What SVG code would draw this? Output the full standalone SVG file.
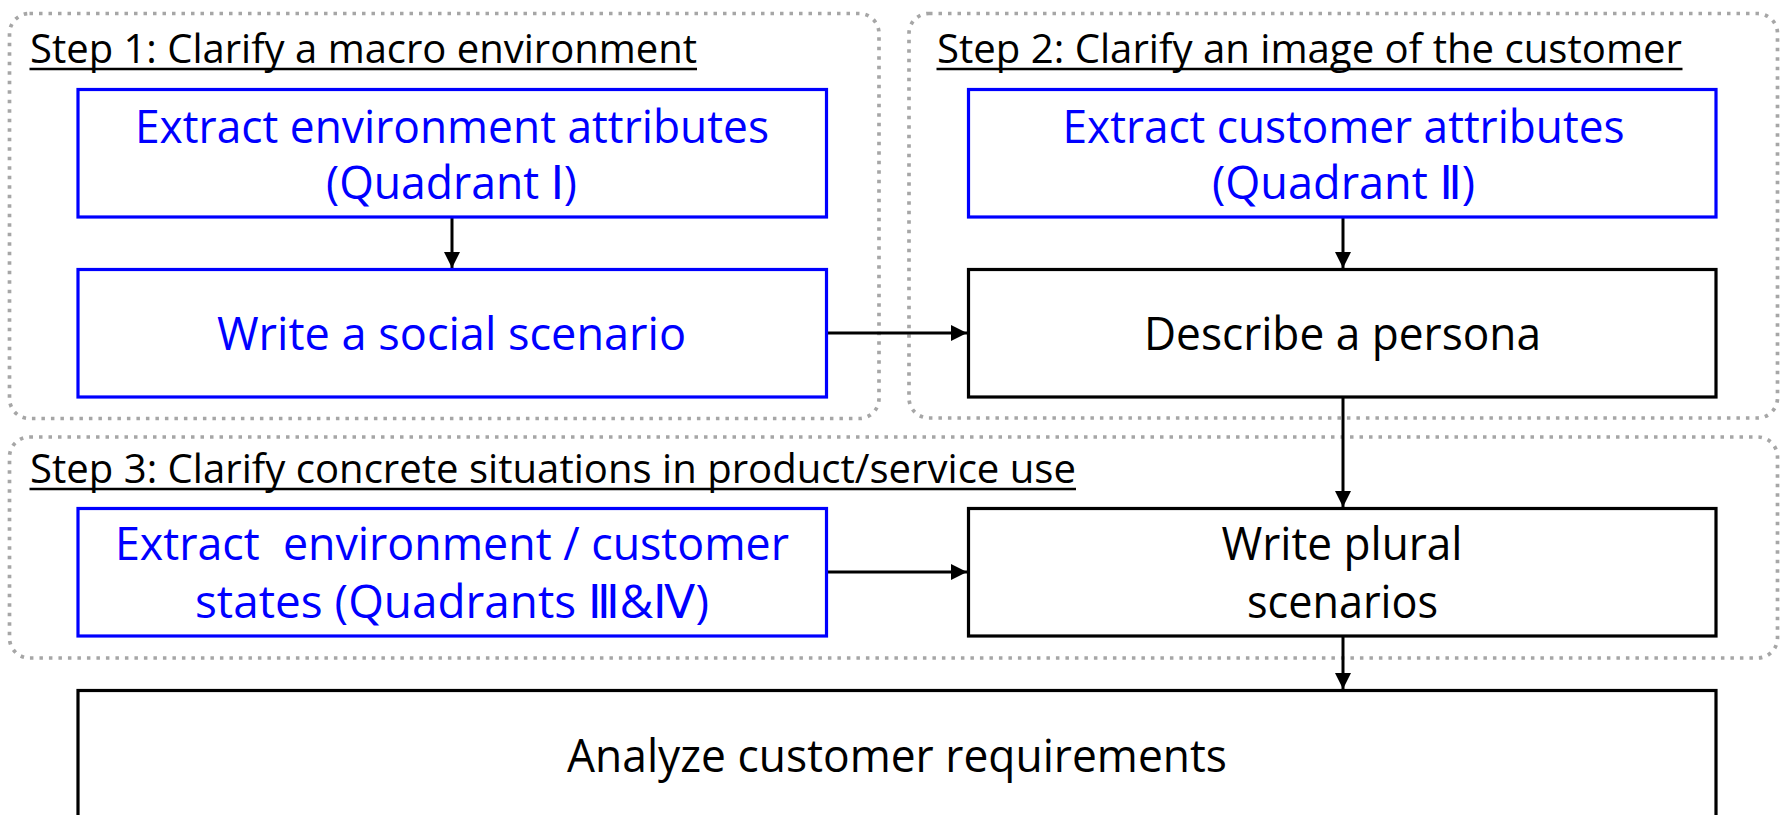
<svg xmlns="http://www.w3.org/2000/svg" width="1783" height="815" viewBox="0 0 1783 815">
  <style>
    .step { fill: none; stroke: #a6a6a6; stroke-width: 3.7; stroke-dasharray: 3.5 6; }
    .title { font-family: "Open Sans", "Noto Sans", "Liberation Sans", sans-serif; font-size: 41px; fill: #000; }
    .uline { stroke: #000; stroke-width: 2.5; }
    .bbox { fill: #fff; stroke: #0000ff; stroke-width: 3.2; }
    .kbox { fill: #fff; stroke: #000; stroke-width: 3.2; }
    .blabel { font-family: "Open Sans", "DejaVu Sans", "Noto Sans CJK JP", sans-serif; font-size: 46px; fill: #0000ff; white-space: pre; }
    .klabel { font-family: "Open Sans", "DejaVu Sans", "Noto Sans CJK JP", sans-serif; font-size: 46px; fill: #000; white-space: pre; }
    .conn { stroke: #000; stroke-width: 3; fill: none; marker-end: url(#arrow); }
  </style>
  <defs>
    <marker id="arrow" markerUnits="userSpaceOnUse" markerWidth="16" markerHeight="16" viewBox="0 0 15 15" refX="15" refY="7.5" orient="auto">
      <path d="M0,0 L15,7.5 L0,15 Z" fill="#000"/>
    </marker>
  </defs>

  <!-- Step groups (dotted frames) -->
  <g id="step1">
    <rect class="step" x="9.5" y="13.5" width="869.5" height="405" rx="20"/>
    <text class="title" x="30" y="62.7" textLength="667" lengthAdjust="spacingAndGlyphs">Step 1: Clarify a macro environment</text>
    <line class="uline" x1="29.5" y1="69" x2="697" y2="69"/>
  </g>
  <g id="step2">
    <rect class="step" x="909" y="13.5" width="868.5" height="404.5" rx="20"/>
    <text class="title" x="937" y="62.7" textLength="745" lengthAdjust="spacingAndGlyphs">Step 2: Clarify an image of the customer</text>
    <line class="uline" x1="936.5" y1="69" x2="1682.5" y2="69"/>
  </g>
  <g id="step3">
    <rect class="step" x="9.5" y="437" width="1768" height="221" rx="20"/>
    <text class="title" x="30" y="482.7" textLength="1046" lengthAdjust="spacingAndGlyphs">Step 3: Clarify concrete situations in product/service use</text>
    <line class="uline" x1="29.5" y1="489" x2="1076" y2="489"/>
  </g>

  <!-- Connectors -->
  <g id="connectors">
    <line class="conn" x1="452" y1="217" x2="452" y2="268"/>
    <line class="conn" x1="1343" y1="217" x2="1343" y2="268"/>
    <line class="conn" x1="827" y1="333" x2="967" y2="333"/>
    <line class="conn" x1="1343" y1="397" x2="1343" y2="507"/>
    <line class="conn" x1="827" y1="572" x2="967" y2="572"/>
    <line class="conn" x1="1343" y1="636" x2="1343" y2="689"/>
  </g>

  <!-- Nodes -->
  <g id="env-attributes">
    <rect class="bbox" x="78" y="89.5" width="748.5" height="127.5"/>
    <text class="blabel" x="135" y="143" textLength="634" lengthAdjust="spacingAndGlyphs">Extract environment attributes</text>
    <text class="blabel" x="326" y="199" textLength="251" lengthAdjust="spacingAndGlyphs">(Quadrant Ⅰ)</text>
  </g>
  <g id="social-scenario">
    <rect class="bbox" x="78" y="269.5" width="748.5" height="127.5"/>
    <text class="blabel" x="217" y="350" textLength="469" lengthAdjust="spacingAndGlyphs">Write a social scenario</text>
  </g>
  <g id="customer-attributes">
    <rect class="bbox" x="968.5" y="89.5" width="747.5" height="127.5"/>
    <text class="blabel" x="1062.5" y="143" textLength="562" lengthAdjust="spacingAndGlyphs">Extract customer attributes</text>
    <text class="blabel" x="1212" y="199" textLength="263" lengthAdjust="spacingAndGlyphs">(Quadrant Ⅱ)</text>
  </g>
  <g id="persona">
    <rect class="kbox" x="968.5" y="269.5" width="747.5" height="127.5"/>
    <text class="klabel" x="1144" y="350" textLength="397" lengthAdjust="spacingAndGlyphs">Describe a persona</text>
  </g>
  <g id="states">
    <rect class="bbox" x="78" y="508.5" width="748.5" height="127.5"/>
    <text class="blabel" x="115" y="560" textLength="674" lengthAdjust="spacingAndGlyphs">Extract  environment / customer</text>
    <text class="blabel" x="195" y="618" textLength="514" lengthAdjust="spacingAndGlyphs">states (Quadrants Ⅲ&amp;Ⅳ)</text>
  </g>
  <g id="plural-scenarios">
    <rect class="kbox" x="968.5" y="508.5" width="747.5" height="127.5"/>
    <text class="klabel" x="1221.5" y="560" textLength="241" lengthAdjust="spacingAndGlyphs">Write plural</text>
    <text class="klabel" x="1247" y="618" textLength="191" lengthAdjust="spacingAndGlyphs">scenarios</text>
  </g>
  <g id="requirements">
    <rect class="kbox" x="78" y="690.5" width="1638" height="200"/>
    <text class="klabel" x="567" y="772" textLength="660" lengthAdjust="spacingAndGlyphs">Analyze customer requirements</text>
  </g>
</svg>
